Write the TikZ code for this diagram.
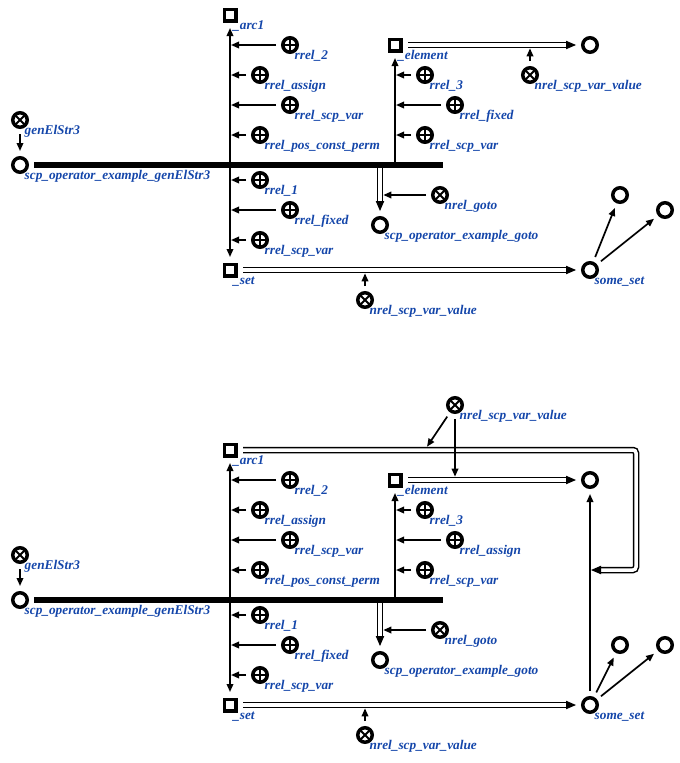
\documentclass[tikz,border=0pt]{standalone}
\usepackage{fontspec}
\setmainfont{Liberation Serif}
\usetikzlibrary{arrows.meta,calc}
\definecolor{lblue}{RGB}{20,70,170}
\tikzset{
 sqn/.style={draw, rectangle, line width=3.5pt, minimum size=11.5pt, inner sep=0pt, outer sep=7.25pt},
 crn/.style={draw, circle, line width=3.5pt, minimum size=14.5pt, inner sep=0pt, outer sep=6.75pt},
 pln/.style={crn, path picture={\draw[line width=1.3pt] (path picture bounding box.north) -- (path picture bounding box.south) (path picture bounding box.west) -- (path picture bounding box.east);}},
 xn/.style={crn, path picture={\draw[line width=1.8pt] (path picture bounding box.north west) -- (path picture bounding box.south east) (path picture bounding box.north east) -- (path picture bounding box.south west);}},
 lbl/.style={anchor=base west, inner sep=0pt, text=lblue, font=\fontsize{13.3}{15}\selectfont\bfseries\itshape},
 arr/.style={line width=1.7pt, -{Triangle[length=8pt,width=6.5pt]}},
 dbl/.style={double, line width=1.5pt, double distance=3.5pt},
 bus/.style={line width=6pt},
}
\newcommand{\mydbl}[2]{%
 \draw[dbl] (#1) -- ($(#2)!9pt!(#1)$);
 \coordinate (dbtB) at ($(#2)!10pt!(#1)$);
 \fill (#2) -- ($(dbtB)!4.3pt!90:(#2)$) -- ($(dbtB)!4.3pt!-90:(#2)$) -- cycle;}
\begin{document}
\begin{tikzpicture}[x=1pt,y=-1pt]
\useasboundingbox (0,0) rectangle (680,763);
\foreach \s/\dy/\er/\cy in {a/0/rrel\_fixed/195, b/435/rrel\_assign/210} {
 % nodes
 \node[sqn] (arc1\s) at (230,15+\dy) {};
 \node[lbl] (Larc1\s) at (233,29.5+\dy) {\_arc1};
 \node[pln] (r2\s) at (290,45+\dy) {};
 \node[lbl] (Lr2\s) at (294.5,59.5+\dy) {rrel\_2};
 \node[pln] (ras\s) at (260,75+\dy) {};
 \node[lbl] (Lras\s) at (264.5,89.5+\dy) {rrel\_assign};
 \node[pln] (rsa\s) at (290,105+\dy) {};
 \node[lbl] (Lrsa\s) at (294.5,119.5+\dy) {rrel\_scp\_var};
 \node[pln] (rpos\s) at (260,135+\dy) {};
 \node[lbl] (Lrpos\s) at (264.5,149.5+\dy) {rrel\_pos\_const\_perm};
 \node[pln] (r1\s) at (260,180+\dy) {};
 \node[lbl] (Lr1\s) at (264.5,194.5+\dy) {rrel\_1};
 \node[pln] (rfx\s) at (290,210+\dy) {};
 \node[lbl] (Lrfx\s) at (294.5,224.5+\dy) {rrel\_fixed};
 \node[pln] (rsb\s) at (260,240+\dy) {};
 \node[lbl] (Lrsb\s) at (264.5,254.5+\dy) {rrel\_scp\_var};
 \node[sqn] (set\s) at (230,270+\dy) {};
 \node[lbl] (Lset\s) at (233,284.5+\dy) {\_set};
 \node[xn] (gen\s) at (20,120+\dy) {};
 \node[lbl] (Lgen\s) at (24.5,134.5+\dy) {genElStr3};
 \node[crn] (op\s) at (20,165+\dy) {};
 \node[lbl] (Lop\s) at (24.5,179.5+\dy) {scp\_operator\_example\_genElStr3};
 \node[sqn] (el\s) at (395,45+\dy) {};
 \node[lbl] (Lel\s) at (398,59.5+\dy) {\_element};
 \node[pln] (r3\s) at (425,75+\dy) {};
 \node[lbl] (Lr3\s) at (429.5,89.5+\dy) {rrel\_3};
 \node[pln] (re\s) at (455,105+\dy) {};
 \node[lbl] (Lre\s) at (459.5,119.5+\dy) {\er};
 \node[pln] (rsc\s) at (425,135+\dy) {};
 \node[lbl] (Lrsc\s) at (429.5,149.5+\dy) {rrel\_scp\_var};
 \node[crn] (et\s) at (590,45+\dy) {};
 \node[crn] (goto\s) at (380,225+\dy) {};
 \node[lbl] (Lgoto\s) at (384.5,239.5+\dy) {scp\_operator\_example\_goto};
 \node[xn] (ngo\s) at (440,195+\dy) {};
 \node[lbl] (Lngo\s) at (444.5,209.5+\dy) {nrel\_goto};
 \node[crn] (ss\s) at (590,270+\dy) {};
 \node[lbl] (Lss\s) at (594.5,284.5+\dy) {some\_set};
 \node[crn] (ca\s) at (620,\cy+\dy) {};
 \node[crn] (cb\s) at (665,210+\dy) {};
 \node[xn] (nv\s) at (365,300+\dy) {};
 \node[lbl] (Lnv\s) at (369.5,314.5+\dy) {nrel\_scp\_var\_value};
 % bus
 \coordinate (be\s) at (443,165+\dy);
 \draw[bus] (op\s.east) -- (be\s);
 \coordinate (b1\s) at (230,165+\dy);
 \coordinate (b2\s) at (395,165+\dy);
 \coordinate (b3\s) at (380,168+\dy);
 \draw[arr] (gen\s) -- (op\s);
 \draw[arr] (b1\s) -- (arc1\s);
 \draw[arr] (b1\s) -- (set\s);
 \draw[arr] (b2\s) -- (el\s);
 \foreach \n in {r2,ras,rsa,rpos,r1,rfx,rsb} {
   \draw[arr] (\n\s) -- ($(\n\s -| b1\s)+(1,0)$);
 }
 \foreach \n in {r3,re,rsc} {
   \draw[arr] (\n\s) -- ($(\n\s -| b2\s)+(1,0)$);
 }
 \mydbl{b3\s}{goto\s.north}
 \draw[arr] (ngo\s) -- ($(ngo\s -| b3\s)+(3.3,0)$);
 \mydbl{el\s.east}{et\s.west}
 \mydbl{set\s.east}{ss\s.west}
 \draw[arr] (nv\s) -- ($(nv\s |- set\s)+(0,3.3)$);
 \draw[arr] (ss\s) -- (ca\s);
 \draw[arr] (ss\s) -- (cb\s);
}
% top only
\node[xn] (nvt) at (530,75) {};
\node[lbl] (Lnvt) at (534.5,89.5) {nrel\_scp\_var\_value};
\draw[arr] (nvt) -- ($(nvt |- ela)+(0,3.3)$);
% bottom only
\coordinate (vb) at (591,570);
\coordinate (bend1) at (636,450);
\coordinate (bend2) at (636,570);
\draw[arr] (ssb) -- (etb);
\draw[dbl, rounded corners=3pt] (arc1b.east) -- (bend1) -- (bend2) -- ($(vb)!9pt!(bend2)$);
\coordinate (dbtB) at ($(vb)!10pt!(bend2)$);
\fill (vb) -- ($(dbtB)!4.3pt!90:(vb)$) -- ($(dbtB)!4.3pt!-90:(vb)$) -- cycle;
\node[xn] (nvb) at (455,405) {};
\node[lbl] (Lnvb) at (459.5,419.5) {nrel\_scp\_var\_value};
\coordinate (dg) at (427,446.7);
\draw[arr] (nvb) -- ($(nvb |- etb)+(0,-3.3)$);
\draw[arr] (nvb) -- (dg);
\end{tikzpicture}
\end{document}
